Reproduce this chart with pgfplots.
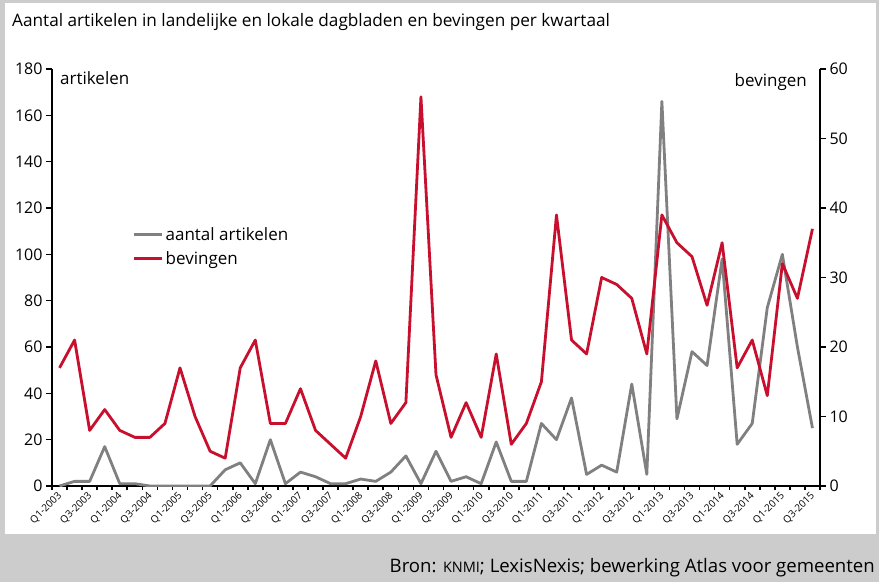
\documentclass[border=0pt]{standalone}
\usepackage{fontspec}
\setmainfont{Open Sans}
\usepackage{pgfplots}
\usepackage{pgfplotstable}
\pgfplotsset{compat=1.18}
\definecolor{rd}{RGB}{200,16,46}
\definecolor{gr}{RGB}{128,128,128}
\definecolor{bg}{RGB}{204,204,204}

\pgfplotstableread{
i art bev
0 0 17
1 2 21
2 2 8
3 17 11
4 1 8
5 1 7
6 0 7
7 0 9
8 0 17
9 0 10
10 0 5
11 7 4
12 10 17
13 1 21
14 20 9
15 1 9
16 6 14
17 4 8
18 1 6
19 1 4
20 3 10
21 2 18
22 6 9
23 13 12
24 1 56
25 15 16
26 2 7
27 4 12
28 1 7
29 19 19
30 2 6
31 2 9
32 27 15
33 20 39
34 38 21
35 5 19
36 9 30
37 6 29
38 44 27
39 5 19
40 166 39
41 29 35
42 58 33
43 52 26
44 98 35
45 18 17
46 27 21
47 77 13
48 100 32
49 60 27
50 25 37
}\data

\begin{document}
\begin{tikzpicture}
\fill[bg] (0pt,0pt) rectangle (879pt,582pt);
\fill[white] (5pt,48pt) rectangle (876pt,579pt);
\node[anchor=west, inner sep=0pt, font=\fontsize{17.2}{20}\selectfont] at (12pt,560pt) {Aantal artikelen in landelijke en lokale dagbladen en bevingen per kwartaal};
\node[anchor=east, inner sep=0pt, font=\fontsize{18.6}{21}\selectfont] at (875pt,14pt) {Bron: {\fontsize{14.5}{16}\selectfont KNMI}; LexisNexis; bewerking Atlas voor gemeenten};
\node[anchor=west, inner sep=0pt, font=\fontsize{17}{20}\selectfont] at (60pt,504pt) {artikelen};
\node[anchor=east, inner sep=0pt, font=\fontsize{17}{20}\selectfont] at (807pt,500pt) {bevingen};

\pgfplotsset{
  common/.style={
    at={(59.53pt,96pt)}, anchor=origin,
    scale only axis, width=768pt, height=417pt,
    xmin=-0.5, xmax=50.5, ymin=0,
    axis line style={line width=2.6pt, black},
    tick style={line width=1.6pt, black},
    tick align=outside,
    major tick length=6pt,
    /pgf/number format/assume math mode=true,
    yticklabel style={font=\fontsize{16}{18}\selectfont},
  }
}

\begin{axis}[common,
  ymax=180, ytick={0,20,...,180},
  axis x line*=bottom, axis y line*=left,
  xtick={0,2,...,50},
  xticklabels={Q1-2003,Q3-2003,Q1-2004,Q3-2004,Q1-2005,Q3-2005,Q1-2006,Q3-2006,Q1-2007,Q3-2007,Q1-2008,Q3-2008,Q1-2009,Q3-2009,Q1-2010,Q3-2010,Q1-2011,Q3-2011,Q1-2012,Q3-2012,Q1-2013,Q3-2013,Q1-2014,Q3-2014,Q1-2015,Q3-2015},
  major x tick style={draw=none},
  minor xtick={-0.5,0.5,...,50.5},
  minor x tick style={line width=1.6pt, black},
  minor tick length=4pt,
  xticklabel style={rotate=45, anchor=east, font=\fontsize{10}{12}\selectfont, inner sep=1pt, yshift=-2pt},
]
\addplot[gr, line width=2.8pt, line join=round] table[x=i, y=art] {\data};
\end{axis}

\begin{axis}[common,
  ymax=60, ytick={0,10,...,60},
  axis x line=none, axis y line*=right,
  legend style={draw=none, fill=none, at={(0.105,0.625)}, anchor=north west,
    font=\fontsize{17}{20}\selectfont, row sep=5.5pt, inner sep=0pt},
  legend cell align=left,
  legend image code/.code={\draw[#1] (0pt,0pt) -- (28pt,0pt);},
]
\addlegendimage{gr, line width=2.8pt}
\addlegendentry{aantal artikelen}
\addplot[rd, line width=2.8pt, line join=round] table[x=i, y=bev] {\data};
\addlegendentry{bevingen}
\end{axis}
\end{tikzpicture}
\end{document}
